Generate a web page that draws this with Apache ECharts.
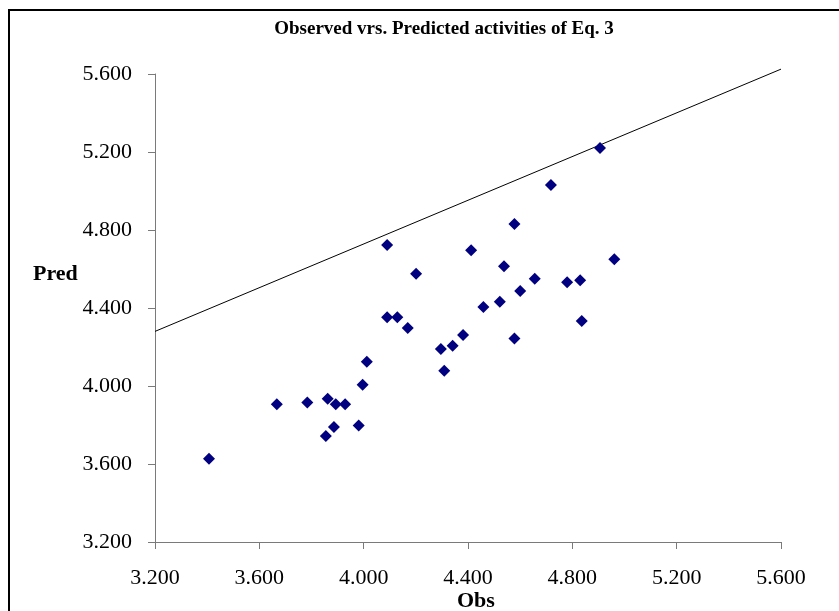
<!DOCTYPE html>
<html>
<head>
<meta charset="utf-8">
<script src="https://cdn.jsdelivr.net/npm/echarts@6/dist/echarts.min.js"></script>
<style>
html,body{margin:0;padding:0;background:#fff;}
#main{width:839px;height:611px;}
</style>
</head>
<body>
<div id="main"></div>
<script>
// Observed (x) values
var obsValues = [3.407, 3.667, 3.784, 3.862, 3.893, 3.929, 3.855, 3.886, 3.981, 3.996,
                 4.012, 4.296, 4.309, 4.341, 4.381, 4.169, 4.090, 4.129, 4.090, 4.201,
                 4.906, 4.718, 4.578, 4.412, 4.538, 4.961, 4.656, 4.780, 4.830, 4.600,
                 4.459, 4.522, 4.836, 4.578];
// Predicted (y) values
var predValues = [3.627, 3.906, 3.916, 3.935, 3.906, 3.906, 3.744, 3.790, 3.798, 4.007,
                  4.125, 4.190, 4.078, 4.207, 4.262, 4.297, 4.352, 4.352, 4.723, 4.576,
                  5.221, 5.031, 4.831, 4.696, 4.614, 4.650, 4.550, 4.532, 4.542, 4.487,
                  4.405, 4.432, 4.333, 4.243];
// Reference line end points
var lineX = [3.2, 5.6];
var lineY = [4.280, 5.625];
// Axis ticks
var axisMin = 3.2, axisMax = 5.6, axisStep = 0.4;

var titleText = 'Observed vrs. Predicted activities of Eq. 3';
var xName = 'Obs', yName = 'Pred';

var points = obsValues.map(function (v, i) { return [v, predValues[i]]; });
var linePts = lineX.map(function (v, i) { return [v, lineY[i]]; });

var serif = '"Liberation Serif", "Times New Roman", serif';
var chart = echarts.init(document.getElementById('main'));
var axisCommon = {
  type: 'value', min: axisMin, max: axisMax, interval: axisStep,
  axisLine: {show: true, lineStyle: {color: '#7a7a7a', width: 1}},
  axisTick: {show: true, inside: false, length: 7, lineStyle: {color: '#7a7a7a'}},
  splitLine: {show: false},
  axisLabel: {fontFamily: serif, fontSize: 22, color: '#000',
    formatter: function (v) { return v.toFixed(3); }}
};
chart.setOption({
  animation: false,
  backgroundColor: '#fff',
  title: {text: titleText, left: 439, top: 15, textAlign: 'center',
    textStyle: {fontFamily: serif, fontSize: 19, fontWeight: 'bold', color: '#000'}},
  grid: {left: 155, right: 58, top: 74, bottom: 69, containLabel: false},
  xAxis: echarts.util.merge({
    axisLabel: {margin: 25}
  }, axisCommon, false),
  yAxis: echarts.util.merge({
    axisLabel: {margin: 23}
  }, axisCommon, false),
  graphic: [
    {type: 'rect', shape: {x: 9, y: 10, width: 900, height: 700},
     style: {fill: null, stroke: '#000', lineWidth: 2}, z: 100},
    {type: 'text', left: 33, top: 263,
     style: {text: yName, font: 'bold 22px ' + serif, fill: '#000'}},
    {type: 'text', left: 457, top: 590,
     style: {text: xName, font: 'bold 22px ' + serif, fill: '#000'}}
  ],
  series: [
    {type: 'line', data: linePts, showSymbol: false, symbol: 'none', clip: false,
     lineStyle: {color: '#000', width: 1}, z: 1, silent: true},
    {type: 'scatter', data: points, symbol: 'diamond', symbolSize: [12, 12],
     itemStyle: {color: '#000080', opacity: 1}, z: 2}
  ]
});
</script>
</body>
</html>
